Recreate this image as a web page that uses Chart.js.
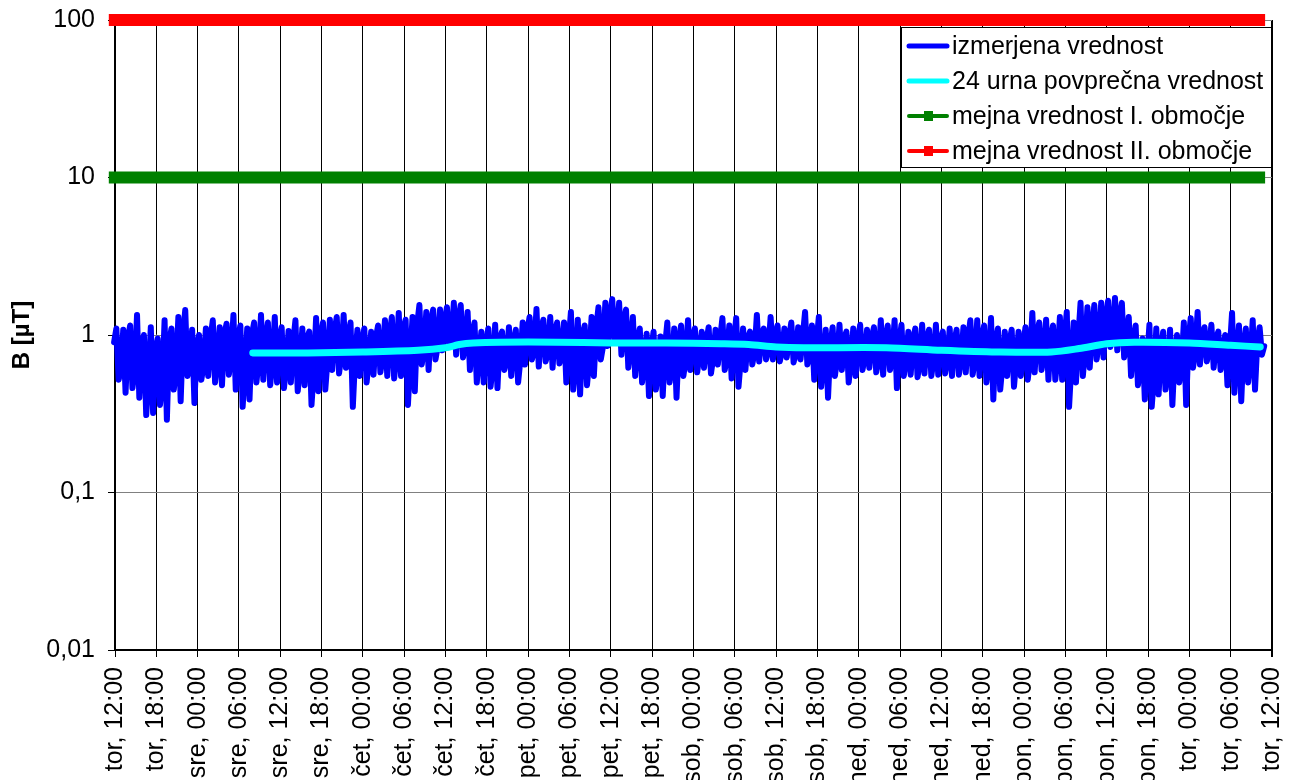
<!DOCTYPE html>
<html>
<head>
<meta charset="utf-8">
<title>B [µT]</title>
<script src="https://cdn.jsdelivr.net/npm/chart.js@4.4.1/dist/chart.umd.min.js"></script>
<style>
  html, body { margin: 0; padding: 0; background: #fff; overflow: hidden; }
  #wrap { width: 1296px; height: 780px; }
</style>
</head>
<body>
<div id="wrap"><canvas id="line-chartcanvas" width="1296" height="780"></canvas></div>
<script>
// x axis: hours from "tor, 12:00", one tick label every 6 hours
var xTickLabels = ["tor, 12:00", "tor, 18:00", "sre, 00:00", "sre, 06:00", "sre, 12:00", "sre, 18:00",
  "čet, 00:00", "čet, 06:00", "čet, 12:00", "čet, 18:00", "pet, 00:00", "pet, 06:00",
  "pet, 12:00", "pet, 18:00", "sob, 00:00", "sob, 06:00", "sob, 12:00", "sob, 18:00",
  "ned, 00:00", "ned, 06:00", "ned, 12:00", "ned, 18:00", "pon, 00:00", "pon, 06:00",
  "pon, 12:00", "pon, 18:00", "tor, 00:00", "tor, 06:00", "tor, 12:00"];
var xTickStep = 6;

// y axis (log), decades only
var yTickValues = [0.01, 0.1, 1, 10, 100];
var yTickLabels = ["0,01", "0,1", "1", "10", "100"];

// measured value, three readings per hour: high, low, middle (µT)
var measuredStartHour = -0.8;
var measuredHigh = [
  1.22, 1.1, 1.08, 1.15, 1.34, 1.0,
  1.12, 0.95, 1.24, 1.1, 1.3, 1.44,
  1.08, 1.0, 1.1, 1.24, 1.12, 1.18,
  1.34, 1.15, 1.1, 1.2, 1.34, 1.2,
  1.3, 1.12, 1.06, 1.24, 1.1, 1.05,
  1.28, 1.2, 1.25, 1.3, 1.34, 1.2,
  1.08, 1.1, 1.05, 1.15, 1.24, 1.3,
  1.38, 1.25, 1.3, 1.55, 1.4, 1.45,
  1.45, 1.5, 1.6, 1.55, 1.4, 1.2,
  1.05, 1.1, 1.16, 1.05, 1.12, 1.08,
  1.2, 1.3, 1.46, 1.25, 1.3, 1.2,
  1.2, 1.4, 1.25, 1.15, 1.3, 1.5,
  1.6, 1.69, 1.6, 1.45, 1.3, 1.1,
  1.02, 1.05, 0.98, 1.2, 1.1, 1.15,
  1.24, 1.1, 1.05, 1.12, 1.08, 1.28,
  1.15, 1.28, 1.1, 1.05, 1.34, 1.1,
  1.3, 1.15, 1.1, 1.2, 1.12, 1.4,
  1.15, 1.3, 1.08, 1.12, 1.16, 1.05,
  1.1, 1.16, 1.08, 1.12, 1.24, 1.15,
  1.24, 1.16, 1.05, 1.1, 1.16, 1.08,
  1.16, 1.05, 1.1, 1.08, 1.12, 1.24,
  1.24, 1.15, 1.28, 1.1, 1.05, 1.08,
  1.05, 1.12, 1.38, 1.2, 1.25, 1.15,
  1.3, 1.4, 1.2, 1.6, 1.5, 1.55,
  1.6, 1.65, 1.72, 1.6, 1.3, 1.15,
  0.95, 1.16, 1.1, 1.05, 1.08, 1.0,
  1.2, 1.28, 1.4, 1.12, 1.16, 1.05,
  1.0, 1.38, 1.15, 1.1, 1.24, 1.12
];
var measuredLow = [
  0.47, 0.52, 0.43, 0.46, 0.4, 0.31,
  0.32, 0.36, 0.29, 0.45, 0.38, 0.55,
  0.37, 0.52, 0.55, 0.5, 0.48, 0.56,
  0.45, 0.35, 0.39, 0.5, 0.52, 0.48,
  0.5, 0.46, 0.5, 0.44, 0.48, 0.36,
  0.44, 0.45, 0.6, 0.57, 0.62, 0.35,
  0.55, 0.5, 0.56, 0.58, 0.55, 0.53,
  0.55, 0.36, 0.44, 0.65, 0.6, 0.7,
  0.8, 0.85, 0.75, 0.72, 0.6, 0.5,
  0.5, 0.47, 0.46, 0.6, 0.55, 0.5,
  0.65, 0.7, 0.63, 0.68, 0.62, 0.66,
  0.5, 0.45, 0.42, 0.48, 0.55, 0.7,
  0.85, 0.9, 0.75, 0.62, 0.55, 0.5,
  0.41, 0.45, 0.41, 0.5, 0.4, 0.55,
  0.6, 0.58, 0.62, 0.57, 0.65, 0.6,
  0.53, 0.47, 0.6, 0.65, 0.68, 0.7,
  0.7, 0.68, 0.72, 0.67, 0.7, 0.65,
  0.52, 0.47, 0.4, 0.55, 0.6, 0.5,
  0.55, 0.6, 0.62, 0.58, 0.56, 0.6,
  0.46, 0.55, 0.56, 0.54, 0.57, 0.55,
  0.56, 0.57, 0.55, 0.56, 0.58, 0.56,
  0.55, 0.5, 0.39, 0.45, 0.55, 0.47,
  0.55, 0.52, 0.58, 0.6, 0.52, 0.52,
  0.52, 0.35, 0.5, 0.55, 0.62, 0.7,
  0.72, 0.84, 0.8, 0.72, 0.55, 0.48,
  0.39, 0.35, 0.42, 0.45, 0.36, 0.5,
  0.36, 0.62, 0.65, 0.68, 0.62, 0.6,
  0.48, 0.43, 0.38, 0.5, 0.45, 0.75
];
var measuredMid = [
  0.9, 0.62, 0.95, 0.6, 0.85, 0.55,
  0.8, 0.5, 0.9, 0.6, 1.0, 0.7,
  0.85, 0.65, 0.95, 0.7, 1.0, 0.75,
  0.95, 0.6, 1.0, 0.7, 0.95, 0.68,
  0.95, 0.65, 0.9, 0.62, 0.95, 0.6,
  1.0, 0.7, 1.05, 0.75, 1.0, 0.72,
  0.9, 0.7, 0.95, 0.72, 1.0, 0.75,
  1.1, 0.7, 1.15, 0.8, 1.2, 0.85,
  1.2, 0.95, 1.25, 0.9, 1.0, 0.75,
  0.85, 0.65, 0.95, 0.7, 0.9, 0.7,
  1.05, 0.8, 1.1, 0.78, 1.05, 0.8,
  0.9, 0.65, 1.0, 0.7, 1.1, 0.85,
  1.3, 1.0, 1.2, 0.85, 0.9, 0.7,
  0.8, 0.6, 0.85, 0.65, 0.9, 0.7,
  0.95, 0.75, 0.9, 0.72, 0.95, 0.75,
  0.9, 0.7, 0.95, 0.78, 1.0, 0.8,
  1.0, 0.8, 0.95, 0.78, 0.98, 0.8,
  0.9, 0.68, 0.85, 0.72, 0.95, 0.7,
  0.9, 0.72, 0.95, 0.7, 0.95, 0.75,
  0.9, 0.7, 0.92, 0.68, 0.95, 0.7,
  0.92, 0.7, 0.9, 0.72, 0.95, 0.7,
  0.95, 0.68, 0.9, 0.65, 0.9, 0.7,
  0.85, 0.7, 1.0, 0.75, 0.95, 0.72,
  0.95, 0.65, 0.95, 0.8, 1.1, 0.9,
  1.25, 1.0, 1.3, 0.95, 0.9, 0.65,
  0.7, 0.55, 0.8, 0.6, 0.75, 0.65,
  0.9, 0.8, 1.0, 0.82, 0.95, 0.78,
  0.8, 0.75, 0.85, 0.7, 0.9, 0.85
];

// 24 hour average
var averageHours = [20, 28, 36, 44, 48, 50, 52, 56, 64, 72, 80, 88, 92, 96, 100, 112, 120, 128, 136, 140, 144, 148, 156, 162, 166.3];
var averageValues = [0.77, 0.77, 0.78, 0.80, 0.83, 0.87, 0.89, 0.90, 0.90, 0.89, 0.89, 0.88, 0.87, 0.84, 0.83, 0.83, 0.80, 0.78, 0.78, 0.82, 0.88, 0.90, 0.89, 0.86, 0.84];

// limit values
var limitHours = [-0.9, 167.0];
var limitZone1 = [10, 10];
var limitZone2 = [100, 100];

var seriesNames = ["izmerjena vrednost", "24 urna povprečna vrednost", "mejna vrednost I. območje", "mejna vrednost II. območje"];

// build point lists
var measuredPoints = [];
for (var i = 0; i < measuredHigh.length; i++) {
  var h = measuredStartHour + i;
  measuredPoints.push({ x: h, y: measuredHigh[i] });
  measuredPoints.push({ x: h + 1 / 3, y: measuredLow[i] });
  measuredPoints.push({ x: h + 2 / 3, y: measuredMid[i] });
}
function pair(xs, ys) {
  return xs.map(function(x, k) { return { x: x, y: ys[k] }; });
}

// legend drawn inside the plot, top right
var boxLegend = {
  id: "boxLegend",
  afterDraw: function(chart) {
    var c = chart.ctx;
    var area = chart.chartArea;
    var w = 370, h = 140;
    var left = area.right - w - 1, top = area.top + 7;
    c.save();
    c.fillStyle = "#fff";
    c.fillRect(left, top, w, h);
    c.strokeStyle = "#000";
    c.lineWidth = 1;
    c.strokeRect(left + 0.5, top + 0.5, w, h);
    c.font = "25px 'Liberation Sans', Arial, sans-serif";
    c.textBaseline = "middle";
    c.textAlign = "left";
    chart.data.datasets.forEach(function(ds, k) {
      var y = top + 19 + k * 35;
      c.strokeStyle = ds.borderColor;
      c.lineWidth = ds.legendMarker ? 4 : 5;
      c.lineCap = "round";
      c.beginPath();
      c.moveTo(left + 8, y);
      c.lineTo(left + 46, y);
      c.stroke();
      if (ds.legendMarker) {
        c.fillStyle = ds.borderColor;
        c.fillRect(left + 23, y - 5, 9, 10);
      }
      c.fillStyle = "#000";
      c.fillText(ds.label, left + 51, y + 1);
    });
    c.restore();
  }
};

document.addEventListener("DOMContentLoaded", function() {
  Chart.defaults.font.family = "'Liberation Sans', Arial, sans-serif";
  Chart.defaults.color = "#000";

  var ctx = document.getElementById("line-chartcanvas");

  var data = {
    datasets: [
      {
        label: seriesNames[0],
        data: measuredPoints,
        borderColor: "#0000ff",
        borderWidth: 6,
        borderJoinStyle: "round",
        borderCapStyle: "round",
        pointRadius: 0,
        clip: 10,
        order: 2
      },
      {
        label: seriesNames[1],
        data: pair(averageHours, averageValues),
        borderColor: "#00ffff",
        borderWidth: 7,
        borderCapStyle: "round",
        tension: 0.3,
        pointRadius: 0,
        clip: 10,
        order: 1
      },
      {
        label: seriesNames[2],
        data: pair(limitHours, limitZone1),
        borderColor: "#008000",
        borderWidth: 12,
        pointRadius: 0,
        legendMarker: true,
        clip: 12,
        order: 0
      },
      {
        label: seriesNames[3],
        data: pair(limitHours, limitZone2),
        borderColor: "#ff0000",
        borderWidth: 12,
        pointRadius: 0,
        legendMarker: true,
        clip: 12,
        order: 0
      }
    ]
  };

  var options = {
    responsive: false,
    animation: false,
    devicePixelRatio: 1,
    layout: { padding: { top: 20, right: 24, left: 0, bottom: 0 } },
    plugins: {
      legend: { display: false },
      tooltip: { enabled: false }
    },
    scales: {
      x: {
        type: "linear",
        min: 0,
        max: (xTickLabels.length - 1) * xTickStep,
        afterBuildTicks: function(scale) {
          scale.ticks = xTickLabels.map(function(l, k) { return { value: k * xTickStep }; });
        },
        afterFit: function(scale) {
          scale.height = 130;
          scale.paddingLeft = 0;
          scale.paddingRight = 0;
        },
        ticks: {
          autoSkip: false,
          minRotation: 90,
          maxRotation: 90,
          padding: 10,
          font: { size: 25 },
          color: "#000",
          callback: function(value, index) { return xTickLabels[index]; }
        },
        grid: {
          color: "#000",
          lineWidth: function(c) { return c.index === xTickLabels.length - 1 ? 2 : 1; },
          tickLength: 7
        },
        border: { display: true, color: "#000", width: 2 }
      },
      y: {
        type: "logarithmic",
        min: 0.01,
        max: 100,
        afterBuildTicks: function(scale) {
          scale.ticks = yTickValues.map(function(v) { return { value: v }; });
        },
        afterFit: function(scale) {
          scale.width = 115;
          scale.paddingTop = 0;
          scale.paddingBottom = 0;
        },
        ticks: {
          padding: 13,
          font: { size: 25 },
          color: "#000",
          callback: function(value) {
            var k = yTickValues.indexOf(value);
            return k >= 0 ? yTickLabels[k] : "";
          }
        },
        grid: { color: "#808080", tickColor: "#000", lineWidth: 1, tickLength: 7 },
        border: { display: true, color: "#000", width: 2 },
        title: {
          display: true,
          text: "B [µT]",
          font: { size: 24, weight: "bold" },
          color: "#000",
          padding: { top: 8, bottom: 0 }
        }
      }
    }
  };

  var chart = new Chart(ctx, {
    type: "line",
    data: data,
    options: options,
    plugins: [boxLegend]
  });
});
</script>
</body>
</html>
